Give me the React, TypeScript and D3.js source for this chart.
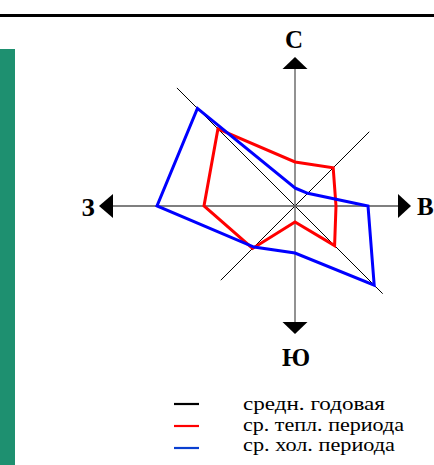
import React from "react";
import * as d3 from "d3";

const directions = ["С", "СВ", "В", "ЮВ", "Ю", "ЮЗ", "З", "СЗ"];
const warmValues = [4.4, 5.4, 4.1, 5.6, 1.6, 6.0, 9.1, 10.9];
const coldValues = [1.8, 1.8, 7.3, 11.2, 4.7, 5.8, 13.8, 13.8];
const legendLabels = ["средн. годовая", "ср. тепл. периода", "ср. хол. периода"];
const legendColors = ["#000000", "#ff0000", "#0a3fd0"];
const legendWidths = [142, 161, 152];

const W = 434;
const H = 465;
const cx = 295;
const cy = 206;

export default function App() {
  const r = d3.scaleLinear().domain([0, 14]).range([0, 140]);
  const angle = d3
    .scaleLinear()
    .domain([0, directions.length])
    .range([0, 2 * Math.PI]);
  const radial = d3
    .lineRadial<number>()
    .angle((_, i) => angle(i))
    .radius((d) => r(d))
    .curve(d3.curveLinearClosed);

  const serif = "Liberation Serif, Times New Roman, Times, DejaVu Serif, serif";
  const diag = (len: number, sx: number, sy: number) => [cx + (sx * len) / Math.SQRT2, cy + (sy * len) / Math.SQRT2];
  const nw = diag(167, -1, -1);
  const se = diag(124, 1, 1);
  const ne = diag(105, 1, -1);
  const sw = diag(105, -1, 1);

  return (
    <svg
      width={W}
      height={H}
      style={{ position: "fixed", left: 0, top: 0, background: "#fff" }}
    >
      <rect x={0} y={0} width={W} height={H} fill="#fff" />
      <line x1={0} x2={W} y1={15.5} y2={15.5} stroke="#000" strokeWidth={3} />
      <rect x={0} y={49} width={15} height={H - 49} fill="#1e9070" />

      {/* diagonals */}
      <line x1={nw[0]} y1={nw[1]} x2={se[0]} y2={se[1]} stroke="#000" strokeWidth={1} />
      <line x1={ne[0]} y1={ne[1]} x2={sw[0]} y2={sw[1]} stroke="#000" strokeWidth={1} />

      {/* main axes */}
      <line x1={cx} x2={cx} y1={69} y2={322} stroke="#777" strokeWidth={1.6} />
      <line x1={113} x2={398} y1={cy} y2={cy} stroke="#555" strokeWidth={1.4} />

      {/* arrows */}
      <path d={`M${cx},57 L${cx + 12.5},69 L${cx - 12.5},69 Z`} fill="#000" />
      <path d={`M${cx},334 L${cx + 12.5},322 L${cx - 12.5},322 Z`} fill="#000" />
      <path d={`M99,${cy} L113,${cy - 12} L113,${cy + 12} Z`} fill="#000" />
      <path d={`M411,${cy} L398,${cy - 12} L398,${cy + 12} Z`} fill="#000" />

      {/* compass labels */}
      <g style={{ fontFamily: serif }} fontWeight="bold" fontSize={25} fill="#000">
        <text x={294} y={48} textAnchor="middle">С</text>
        <text x={88} y={216} textAnchor="middle">З</text>
        <text x={417} y={215}>В</text>
        <text x={296} y={366} textAnchor="middle">Ю</text>
      </g>

      {/* roses */}
      <g transform={`translate(${cx},${cy})`}>
        <path d={radial(warmValues) || ""} fill="none" stroke="#ff0000" strokeWidth={3} strokeLinejoin="miter" />
        <path d={radial(coldValues) || ""} fill="none" stroke="#0000ff" strokeWidth={3} strokeLinejoin="miter" />
      </g>

      {/* legend */}
      <g style={{ fontFamily: serif }} fontSize={19} fill="#000">
        {legendLabels.map((lab, i) => (
          <g key={lab}>
            <line
              x1={174}
              x2={199}
              y1={404 + i * 22}
              y2={404 + i * 22}
              stroke={legendColors[i]}
              strokeWidth={2.2}
            />
            <text
              x={243}
              y={410 + i * 20.5}
              textLength={legendWidths[i]}
              lengthAdjust="spacingAndGlyphs"
            >
              {lab}
            </text>
          </g>
        ))}
      </g>
    </svg>
  );
}
